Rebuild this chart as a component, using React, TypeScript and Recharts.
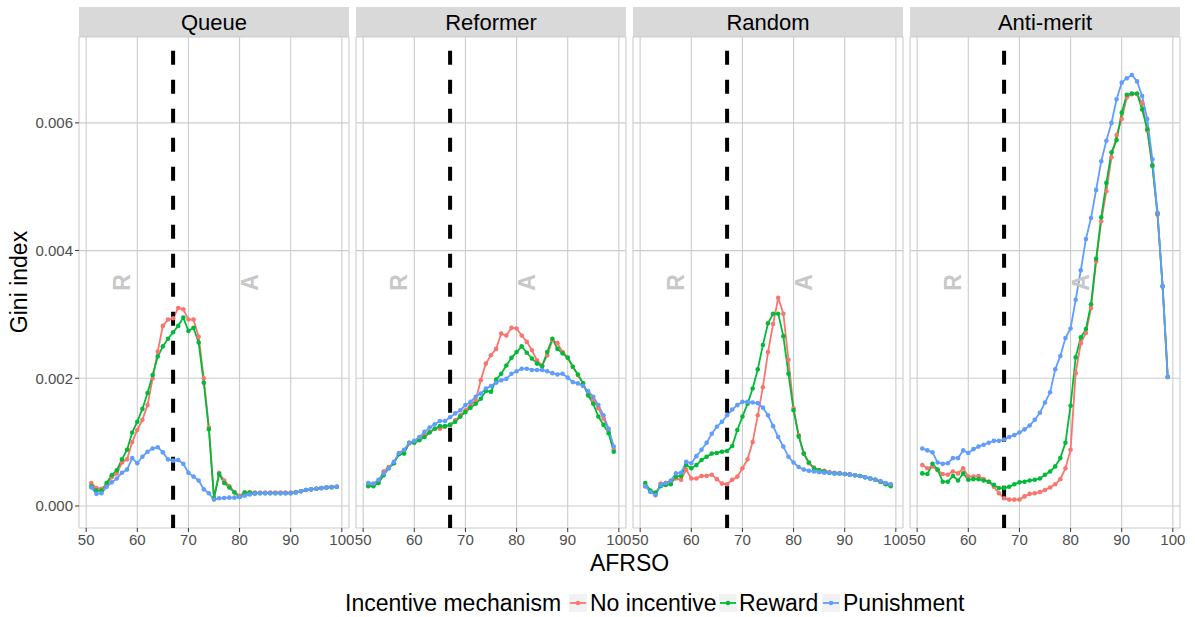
import React from 'react'
import { LineChart, Line, XAxis, YAxis, CartesianGrid, ReferenceLine, ReferenceDot } from 'recharts'

// Gini index values are kept in units of 1e-3 (axis labels rescale them)
const afrso = [51, 52, 53, 54, 55, 56, 57, 58, 59, 60, 61, 62, 63, 64, 65, 66, 67, 68, 69, 70, 71, 72, 73, 74, 75, 76, 77, 78, 79, 80, 81, 82, 83, 84, 85, 86, 87, 88, 89, 90, 91, 92, 93, 94, 95, 96, 97, 98, 99]
const panels = ['Queue', 'Reformer', 'Random', 'Anti-merit']
const seriesNames = ['No incentive', 'Reward', 'Punishment']
const seriesColors = ['#F8766D', '#00BA38', '#619CFF']
const xTicks = [50, 60, 70, 80, 90, 100]
const yTicks = [0, 2, 4, 6]
const threshold = 67
const regionLabels = [{ label: 'R', x: 57 }, { label: 'A', x: 82 }]
const regionLabelY = 3.5

const queueNone = [0.36, 0.28, 0.27, 0.33, 0.45, 0.51, 0.68, 0.73, 1.0, 1.19, 1.35, 1.58, 2.0, 2.42, 2.82, 2.92, 2.94, 3.1, 3.08, 2.92, 2.92, 2.65, 2.0, 1.23, 0.12, 0.52, 0.4, 0.31, 0.22, 0.16, 0.21, 0.21, 0.21, 0.21, 0.21, 0.21, 0.21, 0.21, 0.21, 0.21, 0.22, 0.23, 0.25, 0.26, 0.27, 0.28, 0.29, 0.295, 0.3]
const queueReward = [0.31, 0.24, 0.24, 0.36, 0.48, 0.56, 0.73, 0.88, 1.15, 1.32, 1.52, 1.77, 2.05, 2.34, 2.5, 2.62, 2.72, 2.82, 2.95, 2.74, 2.79, 2.56, 1.93, 1.2, 0.12, 0.5, 0.36, 0.29, 0.21, 0.14, 0.21, 0.21, 0.2, 0.2, 0.2, 0.2, 0.2, 0.2, 0.2, 0.2, 0.21, 0.23, 0.25, 0.26, 0.27, 0.28, 0.29, 0.295, 0.3]
const queuePunish = [0.29, 0.19, 0.2, 0.3, 0.37, 0.43, 0.52, 0.57, 0.75, 0.67, 0.77, 0.85, 0.9, 0.92, 0.84, 0.73, 0.71, 0.72, 0.66, 0.52, 0.46, 0.4, 0.26, 0.2, 0.1, 0.12, 0.125, 0.13, 0.13, 0.14, 0.16, 0.18, 0.19, 0.2, 0.2, 0.2, 0.2, 0.2, 0.2, 0.2, 0.21, 0.23, 0.25, 0.26, 0.27, 0.28, 0.29, 0.295, 0.3]

const reformerNone = [0.33, 0.33, 0.38, 0.54, 0.61, 0.67, 0.82, 0.83, 0.98, 1.0, 1.06, 1.11, 1.16, 1.21, 1.21, 1.24, 1.27, 1.34, 1.42, 1.5, 1.58, 1.66, 1.97, 2.23, 2.36, 2.46, 2.7, 2.67, 2.79, 2.78, 2.67, 2.57, 2.44, 2.28, 2.2, 2.36, 2.6, 2.55, 2.41, 2.33, 2.18, 2.05, 1.92, 1.75, 1.66, 1.53, 1.37, 1.19, 0.88]
const reformerReward = [0.31, 0.31, 0.36, 0.48, 0.59, 0.67, 0.81, 0.82, 0.99, 0.99, 1.03, 1.08, 1.15, 1.21, 1.25, 1.25, 1.27, 1.32, 1.4, 1.47, 1.54, 1.6, 1.68, 1.8, 1.79, 1.98, 2.07, 2.2, 2.32, 2.41, 2.5, 2.4, 2.31, 2.23, 2.19, 2.41, 2.62, 2.46, 2.39, 2.32, 2.18, 2.06, 1.92, 1.73, 1.6, 1.4, 1.27, 1.14, 0.85]
const reformerPunish = [0.36, 0.35, 0.41, 0.51, 0.59, 0.69, 0.83, 0.88, 0.99, 1.02, 1.08, 1.16, 1.23, 1.28, 1.33, 1.33, 1.39, 1.45, 1.5, 1.58, 1.63, 1.71, 1.76, 1.84, 1.88, 1.93, 1.97, 1.99, 2.07, 2.11, 2.15, 2.15, 2.13, 2.13, 2.13, 2.11, 2.08, 2.06, 2.07, 2.01, 1.94, 1.92, 1.88, 1.8, 1.71, 1.58, 1.42, 1.21, 0.93]

const randomNone = [0.31, 0.23, 0.17, 0.35, 0.36, 0.38, 0.43, 0.41, 0.57, 0.43, 0.43, 0.47, 0.47, 0.49, 0.42, 0.35, 0.34, 0.41, 0.46, 0.59, 0.73, 1.0, 1.42, 1.86, 2.41, 2.85, 3.26, 3.01, 2.29, 1.53, 1.11, 0.82, 0.67, 0.6, 0.56, 0.55, 0.53, 0.52, 0.51, 0.5, 0.5, 0.48, 0.47, 0.45, 0.43, 0.41, 0.38, 0.35, 0.34]
const randomReward = [0.36, 0.24, 0.21, 0.31, 0.33, 0.34, 0.46, 0.47, 0.64, 0.59, 0.64, 0.72, 0.77, 0.82, 0.83, 0.85, 0.86, 0.94, 1.19, 1.4, 1.6, 1.84, 2.14, 2.52, 2.86, 3.01, 3.01, 2.66, 2.07, 1.5, 1.09, 0.82, 0.68, 0.59, 0.56, 0.54, 0.52, 0.51, 0.51, 0.5, 0.49, 0.48, 0.47, 0.45, 0.43, 0.41, 0.38, 0.34, 0.31]
const randomPunish = [0.31, 0.22, 0.17, 0.33, 0.36, 0.4, 0.51, 0.52, 0.69, 0.67, 0.78, 0.88, 0.99, 1.13, 1.24, 1.32, 1.42, 1.51, 1.58, 1.63, 1.63, 1.62, 1.61, 1.54, 1.42, 1.25, 1.08, 0.93, 0.77, 0.68, 0.61, 0.57, 0.55, 0.54, 0.53, 0.52, 0.52, 0.51, 0.51, 0.5, 0.49, 0.48, 0.47, 0.45, 0.43, 0.41, 0.39, 0.36, 0.34]

const antiNone = [0.64, 0.59, 0.62, 0.56, 0.5, 0.49, 0.54, 0.51, 0.59, 0.46, 0.46, 0.47, 0.42, 0.38, 0.3, 0.2, 0.12, 0.1, 0.1, 0.1, 0.15, 0.19, 0.2, 0.22, 0.25, 0.29, 0.34, 0.42, 0.59, 0.88, 2.08, 2.55, 2.71, 3.1, 3.83, 4.46, 4.93, 5.46, 5.81, 6.06, 6.4, 6.45, 6.45, 6.31, 5.88, 5.33, 4.56, 3.44, 2.02]
const antiReward = [0.51, 0.5, 0.66, 0.57, 0.38, 0.38, 0.47, 0.4, 0.51, 0.41, 0.42, 0.42, 0.4, 0.38, 0.33, 0.28, 0.28, 0.3, 0.34, 0.37, 0.38, 0.4, 0.41, 0.43, 0.49, 0.54, 0.62, 0.75, 0.99, 1.57, 2.33, 2.64, 2.77, 3.16, 3.87, 4.52, 5.06, 5.54, 5.73, 6.16, 6.44, 6.46, 6.46, 6.21, 5.9, 5.33, 4.58, 3.44, 2.02]
const antiPunish = [0.9, 0.87, 0.84, 0.68, 0.66, 0.67, 0.75, 0.75, 0.87, 0.83, 0.89, 0.93, 0.96, 0.99, 1.02, 1.02, 1.04, 1.08, 1.11, 1.15, 1.2, 1.26, 1.35, 1.46, 1.62, 1.78, 2.14, 2.35, 2.63, 2.78, 3.23, 3.69, 4.18, 4.51, 4.95, 5.4, 5.72, 6.0, 6.37, 6.63, 6.7, 6.75, 6.65, 6.42, 6.06, 5.43, 4.59, 3.44, 2.02]

const panelSeries = [
  [queueNone, queueReward, queuePunish],
  [reformerNone, reformerReward, reformerPunish],
  [randomNone, randomReward, randomPunish],
  [antiNone, antiReward, antiPunish],
]
const keys = ['none', 'reward', 'punish']

const FONT = '"Liberation Sans", Arial, Helvetica, sans-serif'
const PLOT_TOP = 37
const PLOT_H = 491
const PANEL_W = 270
const FIRST_LEFT = 79
const PANEL_STEP = 277

function Panel({ i }: { i: number }) {
  const first = i === 0
  const left = FIRST_LEFT + PANEL_STEP * i
  const data = afrso.map((x, k) => ({
    x,
    none: panelSeries[i][0][k],
    reward: panelSeries[i][1][k],
    punish: panelSeries[i][2][k],
  }))
  return (
    <>
      <div style={{
        position: 'absolute', left, top: 7, width: PANEL_W, height: 30, background: '#d9d9d9',
        fontFamily: FONT, fontSize: 22, color: '#000', textAlign: 'center', lineHeight: '31px',
      }}>{panels[i]}</div>
      <div style={{ position: 'absolute', left: first ? 0 : left, top: PLOT_TOP }}>
        <LineChart width={first ? FIRST_LEFT + PANEL_W : PANEL_W} height={PLOT_H + 40} data={data}
          margin={{ top: 0, right: 0, bottom: 0, left: 0 }}>
          <CartesianGrid stroke="#cccccc" strokeWidth={1.1} />
          <XAxis type="number" dataKey="x" domain={[48.6, 101.4]} ticks={xTicks} interval={0}
            allowDataOverflow axisLine={false} tickSize={4} tickLine={{ stroke: '#333333' }}
            tick={{ fill: '#4d4d4d', fontSize: 15, fontFamily: FONT }} height={40} />
          <YAxis type="number" domain={[-0.345, 7.345]} ticks={yTicks} interval={0} allowDataOverflow
            hide={!first} width={FIRST_LEFT} axisLine={false} tickSize={4} tickLine={{ stroke: '#333333' }}
            tickFormatter={(v: number) => (v / 1000).toFixed(3)}
            tick={{ fill: '#4d4d4d', fontSize: 15, fontFamily: FONT }} />
          {regionLabels.map(r => (
            <ReferenceDot key={r.label} x={r.x} y={regionLabelY} r={0} ifOverflow="visible"
              shape={(p: any) => (
                <text x={p.cx} y={p.cy} transform={`rotate(-90 ${p.cx} ${p.cy})`} textAnchor="middle"
                  dominantBaseline="central" fill="#c8c8c8" fontSize={23} fontWeight="bold" fontFamily={FONT}>{r.label}</text>
              )} />
          ))}
          {keys.map((k, s) => (
            <Line key={k} dataKey={k} name={seriesNames[s]} stroke={seriesColors[s]} strokeWidth={1.8}
              dot={{ r: 2.3, fill: seriesColors[s], stroke: seriesColors[s], strokeWidth: 0 }}
              activeDot={false} isAnimationActive={false} />
          ))}
          <ReferenceLine segment={[{ x: threshold, y: 7.13 }, { x: threshold, y: -0.345 }]} ifOverflow="visible"
            stroke="#000000" strokeWidth={4} strokeDasharray="14 15" />
        </LineChart>
      </div>
    </>
  )
}

function Legend() {
  const items = [
    { key: 569, text: 590 },
    { key: 719, text: 739 },
    { key: 822, text: 843 },
  ]
  return (
    <g fontFamily={FONT} fontSize={23} fill="#000">
      <text x={345} y={611}>Incentive mechanism</text>
      {items.map((it, s) => (
        <g key={s}>
          <rect x={it.key} y={594} width={18} height={18} fill="#f2f2f2" />
          <line x1={it.key + 1} x2={it.key + 17} y1={603} y2={603} stroke={seriesColors[s]} strokeWidth={1.8} />
          <circle cx={it.key + 9} cy={603} r={2.3} fill={seriesColors[s]} />
          <text x={it.text} y={611}>{seriesNames[s]}</text>
        </g>
      ))}
    </g>
  )
}

export default function App() {
  return (
    <div style={{ position: 'absolute', left: 0, top: 0, width: 1195, height: 617, background: '#fff', overflow: 'hidden' }}>
      <style>{'svg.recharts-surface{overflow:visible}'}</style>
      {panels.map((_, i) => <Panel key={i} i={i} />)}
      <svg width={1195} height={617} style={{ position: 'absolute', left: 0, top: 0, pointerEvents: 'none' }}>
        <text x={629.5} y={571} textAnchor="middle" fontFamily={FONT} fontSize={23} fill="#000">AFRSO</text>
        <text x={27} y={282} textAnchor="middle" transform="rotate(-90 27 282)" fontFamily={FONT} fontSize={23} fill="#000">Gini index</text>
        <Legend />
      </svg>
    </div>
  )
}
